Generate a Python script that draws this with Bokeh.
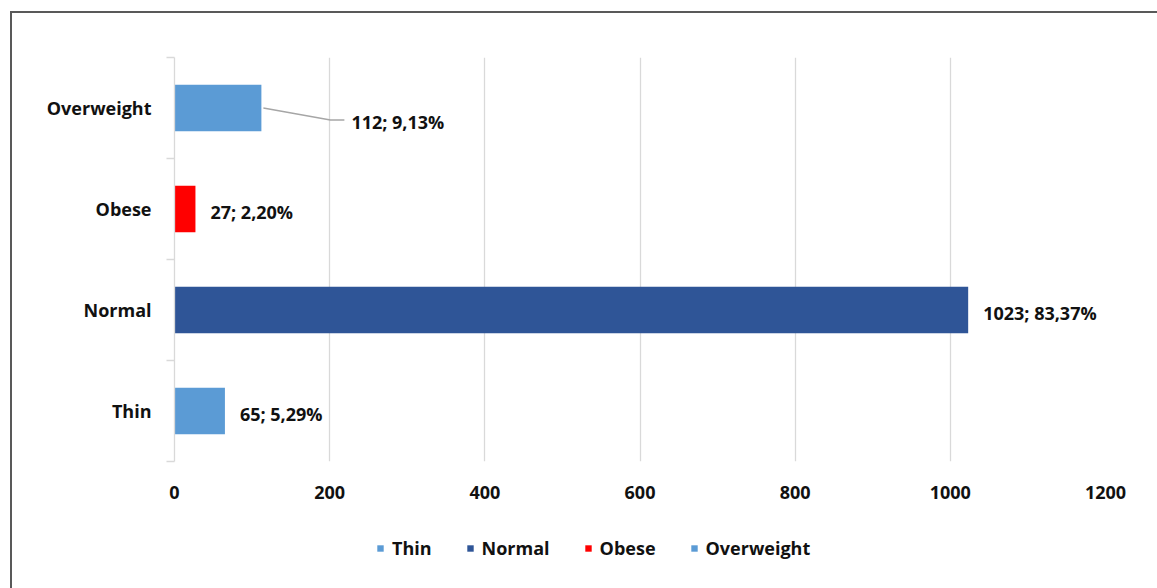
from bokeh.plotting import figure
from bokeh.layouts import column
from bokeh.models import (Range1d, FixedTicker, ColumnDataSource, Legend, LegendItem)
from bokeh.core.properties import value
from bokeh.embed import file_html
from bokeh.resources import INLINE

# BMI categories, bottom to top
categories = ["Thin", "Normal", "Obese", "Overweight"]
counts = [65, 1023, 27, 112]
percents = ["5,29%", "83,37%", "2,20%", "9,13%"]
colors = ["#5B9BD5", "#2F5597", "#FF0000", "#5B9BD5"]
x_ticks = [0, 200, 400, 600, 800, 1000, 1200]

FONT = "Open Sans"
FSIZE = "18px"
TEXT = "#111111"
GRID = "#d9d9d9"

W = 1145
H_MAIN, H_LEG = 508, 67

p = figure(width=W, height=H_MAIN, output_backend="svg", toolbar_location=None,
           x_range=Range1d(0, 1200), y_range=Range1d(0, len(categories)),
           min_border_left=162, min_border_right=52,
           min_border_top=44, min_border_bottom=60)
p.outline_line_color = None
p.background_fill_color = "white"
p.border_fill_color = "white"

ys = [i + 0.5 for i in range(len(categories))]
labels = [f"{c}; {pc}" for c, pc in zip(counts, percents)]
src = ColumnDataSource(dict(y=ys, right=counts, color=colors, cat=categories,
                            label=labels))

# grid
p.ygrid.visible = False
p.xgrid.ticker = FixedTicker(ticks=x_ticks)
p.xgrid.grid_line_color = GRID
p.xgrid.grid_line_width = 1.3

bars = p.hbar(y="y", left=0, right="right", height=0.46, fill_color="color",
              line_color=None, source=src)

# data labels (white boxes hide the gridlines behind them)
direct = ColumnDataSource(dict(x=counts[:3], y=ys[:3], t=labels[:3]))
p.text(x="x", y="y", text="t", source=direct, x_offset=6,
       text_align="left", text_baseline="middle",
       text_font=value(FONT), text_font_style="bold", text_font_size=FSIZE,
       text_color=TEXT, background_fill_color="white",
       padding=[9, 3, 9, 3])

# the small overweight bar gets its label pulled out with a leader line
ux = 1200 / 931.0
uy = 1 / 101.0
v, yc = counts[3], ys[3]
p.line(x=[v + 2 * ux, v + 69 * ux, v + 83 * ux],
       y=[yc, yc - 12 * uy, yc - 12 * uy], line_color="#a6a6a6", line_width=1.3)
p.text(x=[v], y=[yc], text=[labels[3]], x_offset=90, y_offset=14,
       text_align="left", text_baseline="middle",
       text_font=value(FONT), text_font_style="bold", text_font_size=FSIZE,
       text_color=TEXT)

# x axis: labels only
xa = p.xaxis[0]
xa.ticker = FixedTicker(ticks=x_ticks)
xa.axis_line_color = None
xa.major_tick_line_color = None
xa.minor_tick_line_color = None
xa.major_label_standoff = 18
xa.major_label_text_font = FONT
xa.major_label_text_font_style = "bold"
xa.major_label_text_font_size = FSIZE
xa.major_label_text_color = TEXT

# y axis: category names centered, tick marks between categories
ya = p.yaxis[0]
ya.ticker = FixedTicker(ticks=ys, minor_ticks=list(range(len(categories) + 1)))
ya.major_label_overrides = {y: c for y, c in zip(ys, categories)}
ya.axis_line_color = GRID
ya.axis_line_width = 1.3
ya.major_tick_line_color = None
ya.major_tick_out = 0
ya.major_tick_in = 0
ya.minor_tick_line_color = GRID
ya.minor_tick_line_width = 1.3
ya.minor_tick_out = 8
ya.minor_tick_in = 0
ya.major_label_standoff = 15
ya.major_label_text_font = FONT
ya.major_label_text_font_style = "bold"
ya.major_label_text_font_size = FSIZE
ya.major_label_text_color = TEXT

# legend strip underneath the chart; each swatch renderer holds one
# zero-length bar so that the legend has something to draw from
lf = figure(width=W, height=H_LEG, output_backend="svg", toolbar_location=None,
            x_range=Range1d(0, 1), y_range=Range1d(0, 1), min_border=0)
lf.axis.visible = False
lf.grid.visible = False
lf.outline_line_color = None
lf.border_fill_color = "white"
swatches = [lf.hbar(y=[0.5], left=[0], right=[0], height=0.5, fill_color=c,
                    line_color=None)
            for c in colors]
legend = Legend(items=[LegendItem(label=c, renderers=[r], index=0)
                       for c, r in zip(categories, swatches)],
                orientation="horizontal", location=(202, 28),
                glyph_width=8, glyph_height=8, label_height=8,
                label_standoff=8, spacing=34, padding=0, margin=0,
                border_line_color=None, background_fill_alpha=0,
                label_text_font=FONT, label_text_font_style="bold",
                label_text_font_size=FSIZE, label_text_color=TEXT,
                label_text_baseline="middle")
lf.add_layout(legend, "center")

layout = column(p, lf, spacing=0, margin=(11, 0, 0, 10),
                styles={"border-top": "2px solid #595959",
                        "border-left": "2px solid #595959"})

open("out.html", "w").write(file_html(layout, INLINE))
